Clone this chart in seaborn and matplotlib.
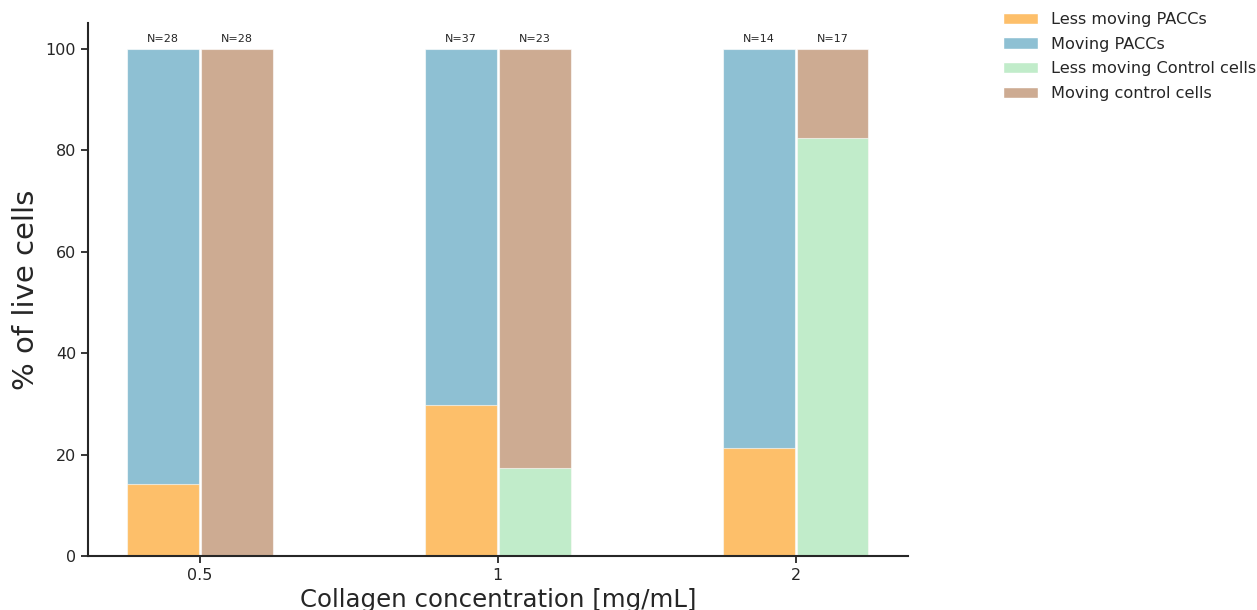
import matplotlib
matplotlib.use("Agg")
import matplotlib.pyplot as plt
import matplotlib.patches as mpatches
import pandas as pd
import seaborn as sns

# data
concentrations = ["0.5", "1", "2"]
n_pacc = [28, 37, 14]
n_control = [28, 23, 17]
less_moving_pacc = [14.3, 29.7, 21.4]
less_moving_control = [0.0, 17.4, 82.4]

labels = ["Less moving PACCs", "Moving PACCs", "Less moving Control cells", "Moving control cells"]
colors = ["#fdbf6a", "#8ec0d3", "#c1ecca", "#cdab92"]

sns.set_theme(style="ticks")
plt.rcParams["font.family"] = ["DejaVu Sans"]

rows = []
for i, c in enumerate(concentrations):
    rows.append({"conc": c, "group": "PACC", "total": 100.0, "less": less_moving_pacc[i]})
    rows.append({"conc": c, "group": "Control", "total": 100.0, "less": less_moving_control[i]})
df = pd.DataFrame(rows)

fig = plt.figure(figsize=(12.57, 6.10), dpi=100)
ax = fig.add_axes([0.07, 0.0885, 0.652, 0.8735])

edge = (1, 1, 1, 0.6)
# top layer: moving cells (full height), bottom layer: less moving cells
sns.barplot(data=df, x="conc", y="total", hue="group", hue_order=["PACC", "Control"],
            palette={"PACC": colors[1], "Control": colors[3]}, width=0.495, gap=0.025,
            edgecolor=edge, linewidth=0.8, saturation=1, legend=False, ax=ax)
sns.barplot(data=df, x="conc", y="less", hue="group", hue_order=["PACC", "Control"],
            palette={"PACC": colors[0], "Control": colors[2]}, width=0.495, gap=0.025,
            edgecolor=edge, linewidth=0.8, saturation=1, legend=False, ax=ax)

# N labels above each bar
for i in range(len(concentrations)):
    ax.text(i - 0.124, 101, f"N={n_pacc[i]}", ha="center", va="bottom", fontsize=8)
    ax.text(i + 0.124, 101, f"N={n_control[i]}", ha="center", va="bottom", fontsize=8)

ax.set_xlim(-0.376, 2.376)
ax.set_ylim(0, 105.1)
ax.set_yticks([0, 20, 40, 60, 80, 100])
ax.tick_params(labelsize=11.5, width=1.3, length=5)
for s in ["left", "bottom"]:
    ax.spines[s].set_linewidth(1.5)
ax.set_xlabel("Collagen concentration [mg/mL]", fontsize=17.6, labelpad=4)
ax.set_ylabel("% of live cells", fontsize=21)
sns.despine(ax=ax)

handles = [mpatches.Patch(facecolor=col, edgecolor="white", label=lab) for col, lab in zip(colors, labels)]
fig.legend(handles=handles, loc="upper left", bbox_to_anchor=(0.786, 1.004), frameon=False,
           fontsize=11.6, handlelength=2.2, labelspacing=0.6)

fig.savefig("out.png", dpi=100)
